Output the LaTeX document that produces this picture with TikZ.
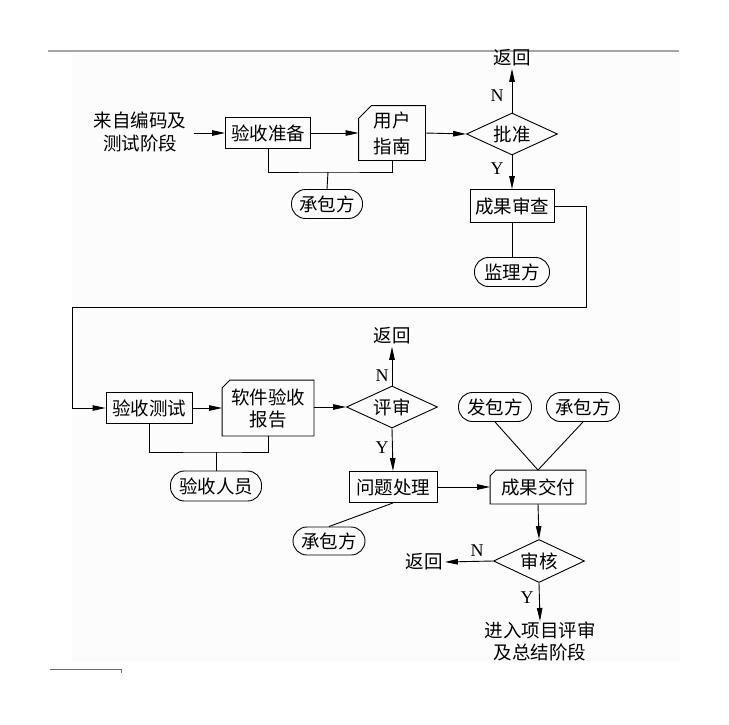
\documentclass[tikz,border=0pt]{standalone}
\usepackage{fontspec}
\setmainfont{Noto Sans CJK SC}
\newfontfamily\latinfont{Liberation Serif}
\usetikzlibrary{arrows.meta,shapes.geometric,calc}
\definecolor{bgfaint}{RGB}{252,252,252}
\definecolor{rulegray}{RGB}{165,165,165}
\definecolor{rulegray2}{RGB}{110,110,110}
\newcommand\cutoutline[2]{\draw (#1.south west) -- ($(#1.north west)+(0,#2)$) -- ($(#1.north west)+(#2,0)$) -- (#1.north east) -- (#1.south east) -- cycle;}
\begin{document}
\begin{tikzpicture}[x=1pt,y=-1pt, line width=0.9pt,
 every node/.style={font=\fontsize{18.5}{24}\selectfont, inner sep=0pt},
 box/.style={draw, rectangle, minimum height=31, align=center},
 cutbox/.style={rectangle, align=center},
 term/.style={draw, rectangle, rounded corners=14pt, minimum height=29},
 dec/.style={draw, diamond, minimum width=91, minimum height=42, aspect=2.17},
 arr/.style={-{Triangle[length=13pt,width=5.5pt]}},
 yn/.style={font=\latinfont\fontsize{18}{20}\selectfont},
 ret/.style={inner sep=2pt},
]
\useasboundingbox (0,0) rectangle (729,724);
\fill[bgfaint] (72,53) rectangle (680,661);
\draw[rulegray, line width=2.5pt] (48,51) -- (679,51);
\draw[rulegray2, line width=0.8pt] (50,669) -- (121,669) -- (121,673);

% row 1
\node[align=center, font=\fontsize{18.5}{23}\selectfont] (src) at (140,132) {来自编码及\\测试阶段};
\node[box, minimum width=85] (prep) at (268,133) {验收准备};
\node[cutbox, minimum width=66, minimum height=54, font=\fontsize{18.5}{26}\selectfont] (guide) at (392,133) {用户\\指南};
\cutoutline{guide}{13}
\node[dec] (appr) at (512,134) {批准};
\node[ret] (ret1) at (512,58) {返回};
\node[yn] (n1) at (497,96) {N};
\node[yn] (y1) at (497,169) {Y};
\node[box, minimum width=84, minimum height=33] (chk) at (512,206) {成果审查};
\node[term, minimum width=75] (sup) at (512,272) {监理方};
\node[term, minimum width=71] (con1) at (327,204) {承包方};
\coordinate (j1) at (328,172);

% row 2
\node[box, minimum width=86] (test) at (149,408) {验收测试};
\node[cutbox, minimum width=91, minimum height=55, font=\fontsize{18.5}{22}\selectfont] (rep) at (268,408) {软件验收\\报告};
\cutoutline{rep}{8}
\node[dec] (rev) at (392,407) {评审};
\node[ret] (ret2) at (392,336) {返回};
\node[yn] (n2) at (382,376) {N};
\node[yn] (y2) at (382,448) {Y};
\node[term, minimum width=91, minimum height=30] (staff) at (216,486) {验收人员};
\coordinate (j2) at (216,452);
\node[box, minimum width=88] (fix) at (393,487) {问题处理};
\node[term, minimum width=72, minimum height=28] (con2) at (329,541) {承包方};
\node[cutbox, minimum width=95, minimum height=33] (del) at (538,487) {成果交付};
\cutoutline{del}{6}
\node[term, minimum width=73] (cli) at (495,407) {发包方};
\node[term, minimum width=73] (con3) at (583,407) {承包方};
\node[dec, minimum height=43] (aud) at (539,561) {审核};
\node[ret] (ret3) at (424,562) {返回};
\node[yn] (n3) at (477,551) {N};
\node[yn] (y3) at (527,598) {Y};
\node[align=center, anchor=north, font=\fontsize{18.5}{22}\selectfont] (fin) at (540,621) {进入项目评审\\及总结阶段};

\coordinate (k2) at (586,307);
\coordinate (k3) at (72,307);

% connectors row 1
\draw[arr, shorten <=7pt] (src.east |- prep.west) -- (prep.west);
\draw[arr] (prep.east) -- (guide.west |- prep.east);
\draw (prep.south) |- (j1) -| (guide.south);
\draw (j1) -- (con1.north);
\draw[arr] (guide.east) -- (appr.west);
\draw[arr] (appr.north) -- (ret1.south);
\draw[arr] (appr.south) -- (chk.north);
\draw (chk.south) -- (sup.north);
\draw[arr] (chk.east) -| (k2) -- (k3) |- (test.west);

% connectors row 2
\draw[arr] (test.east) -- (rep.west |- test.east);
\draw (test.south) |- (j2) -| (rep.south);
\draw (j2) -- (staff.north);
\draw[arr] (rep.east |- rev.west) -- (rev.west);
\draw[arr] (rev.north) -- (ret2.south);
\draw[arr] (rev.south) -- (fix.north);
\draw (fix.south) -- (con2.north);
\draw[arr] (fix.east) -- (del.west);
\draw (cli.south) -- (del.north);
\draw (con3.south) -- (del.north);
\draw[arr] (del.south) -- (aud.north);
\draw[arr] (aud.west) -- (ret3.east);
\draw[arr] (aud.south) -- (fin.north);
\end{tikzpicture}
\end{document}
